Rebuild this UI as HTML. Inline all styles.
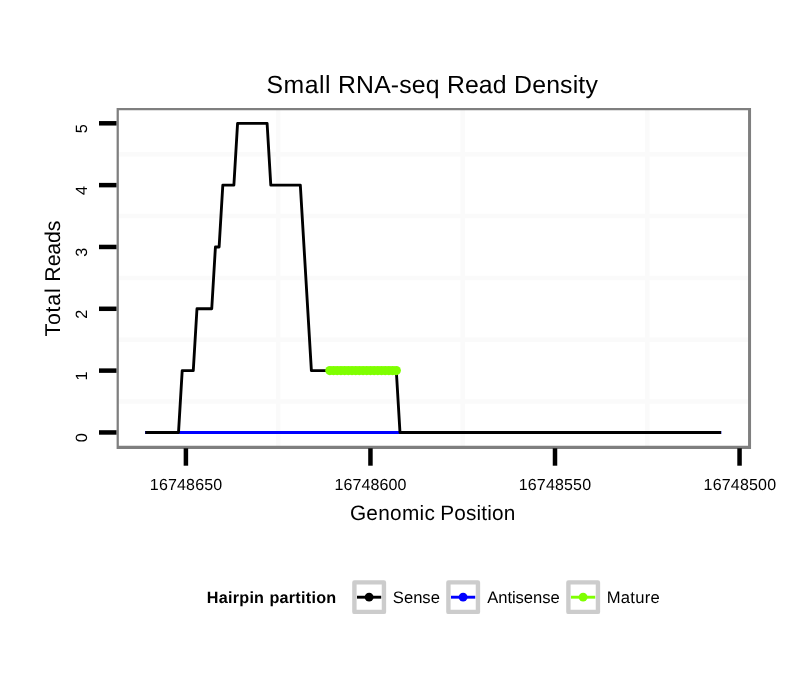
<!DOCTYPE html>
<html><head><meta charset="utf-8"><title>Small RNA-seq Read Density</title>
<style>html,body{margin:0;padding:0;background:#fff}svg{display:block}text{font-family:"Liberation Sans",sans-serif;fill:#000;text-rendering:geometricPrecision}</style></head><body>
<svg width="810" height="690" viewBox="0 0 810 690">
<rect width="810" height="690" fill="#fff"/>
<g stroke="#fafafa" stroke-width="4.5">
<line x1="118.0" x2="749.4" y1="401.53" y2="401.53"/>
<line x1="118.0" x2="749.4" y1="339.70" y2="339.70"/>
<line x1="118.0" x2="749.4" y1="277.88" y2="277.88"/>
<line x1="118.0" x2="749.4" y1="216.04" y2="216.04"/>
<line x1="118.0" x2="749.4" y1="154.21" y2="154.21"/>
<line y1="109.4" y2="446.8" x1="278.18" x2="278.18"/>
<line y1="109.4" y2="446.8" x1="462.73" x2="462.73"/>
<line y1="109.4" y2="446.8" x1="647.27" x2="647.27"/>
</g>
<line x1="145.10" x2="721.29" y1="432.45" y2="432.45" stroke="#0000ff" stroke-width="3.1"/>
<polyline points="145.30,432.45 178.52,432.45 182.21,370.62 193.28,370.62 196.97,308.79 211.74,308.79 215.43,246.96 219.12,246.96 222.81,185.13 233.88,185.13 237.57,123.30 267.10,123.30 270.79,185.13 300.32,185.13 311.39,370.62 396.29,370.62 399.98,432.45 721.09,432.45" fill="none" stroke="#000" stroke-width="2.85" stroke-linejoin="round"/>
<g fill="#7fff00">
<circle cx="329.85" cy="370.62" r="4.6"/>
<circle cx="333.54" cy="370.62" r="4.6"/>
<circle cx="337.23" cy="370.62" r="4.6"/>
<circle cx="340.92" cy="370.62" r="4.6"/>
<circle cx="344.61" cy="370.62" r="4.6"/>
<circle cx="348.30" cy="370.62" r="4.6"/>
<circle cx="352.00" cy="370.62" r="4.6"/>
<circle cx="355.69" cy="370.62" r="4.6"/>
<circle cx="359.38" cy="370.62" r="4.6"/>
<circle cx="363.07" cy="370.62" r="4.6"/>
<circle cx="366.76" cy="370.62" r="4.6"/>
<circle cx="370.45" cy="370.62" r="4.6"/>
<circle cx="374.14" cy="370.62" r="4.6"/>
<circle cx="377.83" cy="370.62" r="4.6"/>
<circle cx="381.52" cy="370.62" r="4.6"/>
<circle cx="385.21" cy="370.62" r="4.6"/>
<circle cx="388.90" cy="370.62" r="4.6"/>
<circle cx="392.60" cy="370.62" r="4.6"/>
<circle cx="396.29" cy="370.62" r="4.6"/>
</g>
<path fill="#7f7f7f" fill-rule="evenodd" d="M116.6 108H751.05V448.9H116.6Z M118.85 110.15H748.05V445.65H118.85Z"/>
<g stroke="#000" stroke-width="4.5">
<line x1="99" x2="116.5" y1="432.45" y2="432.45"/>
<line x1="99" x2="116.5" y1="370.62" y2="370.62"/>
<line x1="99" x2="116.5" y1="308.79" y2="308.79"/>
<line x1="99" x2="116.5" y1="246.96" y2="246.96"/>
<line x1="99" x2="116.5" y1="185.13" y2="185.13"/>
<line x1="99" x2="116.5" y1="123.30" y2="123.30"/>
<line y1="448.3" y2="465.7" x1="185.90" x2="185.90"/>
<line y1="448.3" y2="465.7" x1="370.45" x2="370.45"/>
<line y1="448.3" y2="465.7" x1="555.00" x2="555.00"/>
<line y1="448.3" y2="465.7" x1="739.55" x2="739.55"/>
</g>
<text y="93" font-size="24.8"><tspan x="266.45" style="letter-spacing:0.513px">Small</tspan> <tspan x="338.00" style="letter-spacing:0.167px">RNA-seq</tspan> <tspan x="447.00" style="letter-spacing:0.083px">Read</tspan> <tspan x="514.10" style="letter-spacing:0.167px">Density</tspan></text>
<text y="490" font-size="16"><tspan x="149.85" style="letter-spacing:0.164px">16748650</tspan></text>
<text y="490" font-size="16"><tspan x="334.55" style="letter-spacing:0.107px">16748600</tspan></text>
<text y="490" font-size="16"><tspan x="518.75" style="letter-spacing:0.164px">16748550</tspan></text>
<text y="490" font-size="16"><tspan x="703.55" style="letter-spacing:0.193px">16748500</tspan></text>
<text transform="translate(87,433.25) rotate(-90)" font-size="16.3" text-anchor="end">0</text>
<text transform="translate(87,371.42) rotate(-90)" font-size="16.3" text-anchor="end">1</text>
<text transform="translate(87,309.59) rotate(-90)" font-size="16.3" text-anchor="end">2</text>
<text transform="translate(87,247.76) rotate(-90)" font-size="16.3" text-anchor="end">3</text>
<text transform="translate(87,185.93) rotate(-90)" font-size="16.3" text-anchor="end">4</text>
<text transform="translate(87,124.10) rotate(-90)" font-size="16.3" text-anchor="end">5</text>
<text y="519.9" font-size="20.8"><tspan x="349.90" style="letter-spacing:0.292px">Genomic</tspan> <tspan x="440.15" style="letter-spacing:0.186px">Position</tspan></text>
<text y="0" font-size="21.4" transform="translate(60.2,336.05) rotate(-90)"><tspan x="-0.50" style="letter-spacing:0.775px">Total</tspan> <tspan x="54.40" style="letter-spacing:-0.163px">Reads</tspan></text>
<text y="602.8" font-size="16.2" font-weight="bold"><tspan x="206.80" style="letter-spacing:0.242px">Hairpin</tspan> <tspan x="269.40" style="letter-spacing:0.256px">partition</tspan></text>
<rect x="354.40" y="582.4" width="29.55" height="29.5" fill="#fff" stroke="#cccccc" stroke-width="4.4" stroke-linejoin="round"/>
<line x1="357.00" x2="381.20" y1="597.2" y2="597.2" stroke="#000" stroke-width="2.9"/>
<circle cx="369.10" cy="597.2" r="4.4" fill="#000"/>
<text y="602.8" font-size="16.6"><tspan x="392.85" style="letter-spacing:0.000px">Sense</tspan></text>
<rect x="448.40" y="582.4" width="29.55" height="29.5" fill="#fff" stroke="#cccccc" stroke-width="4.4" stroke-linejoin="round"/>
<line x1="451.00" x2="475.20" y1="597.2" y2="597.2" stroke="#0000ff" stroke-width="2.9"/>
<circle cx="463.10" cy="597.2" r="4.4" fill="#0000ff"/>
<text y="602.8" font-size="16.6"><tspan x="487.20" style="letter-spacing:-0.044px">Antisense</tspan></text>
<rect x="568.40" y="582.4" width="29.55" height="29.5" fill="#fff" stroke="#cccccc" stroke-width="4.4" stroke-linejoin="round"/>
<line x1="571.00" x2="595.20" y1="597.2" y2="597.2" stroke="#7fff00" stroke-width="2.9"/>
<circle cx="583.10" cy="597.2" r="4.4" fill="#7fff00"/>
<text y="602.8" font-size="16.6"><tspan x="606.65" style="letter-spacing:0.310px">Mature</tspan></text>
</svg></body></html>
